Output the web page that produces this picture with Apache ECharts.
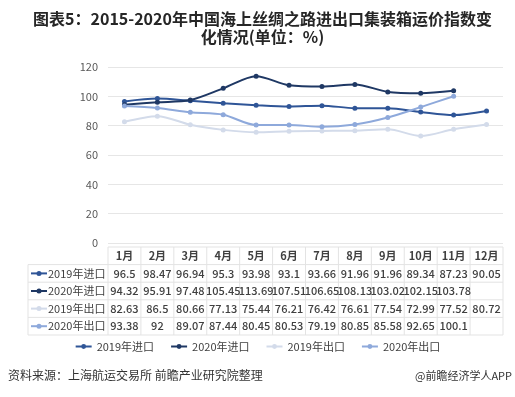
<!DOCTYPE html>
<html>
<head>
<meta charset="utf-8">
<script src="https://cdn.jsdelivr.net/npm/echarts@6/dist/echarts.min.js"></script>
<style>
html,body{margin:0;padding:0;background:#fff;}
#main{width:515px;height:397px;}
</style>
</head>
<body>
<div id="main"></div>
<script>
var months=['1月','2月','3月','4月','5月','6月','7月','8月','9月','10月','11月','12月'];
var imp2019=[96.5, 98.47, 96.94, 95.3, 93.98, 93.1, 93.66, 91.96, 91.96, 89.34, 87.23, 90.05];
var imp2020=[94.32, 95.91, 97.48, 105.45, 113.69, 107.51, 106.65, 108.13, 103.02, 102.15, 103.78, null];
var exp2019=[82.63, 86.5, 80.66, 77.13, 75.44, 76.21, 76.42, 76.61, 77.54, 72.99, 77.52, 80.72];
var exp2020=[93.38, 92, 89.07, 87.44, 80.45, 80.53, 79.19, 80.85, 85.58, 92.65, 100.1, null];
var names=['2019年进口','2020年进口','2019年出口','2020年出口'];
var colors=['#2F5597','#1F3864','#D3DBEA','#8EA9DB'];
var yTicks=[0,20,40,60,80,100,120];

var rows=[imp2019,imp2020,exp2019,exp2020];
var font='"Noto Sans CJK SC", sans-serif';

// 表格位置
var gl=108, gr=503, tl=28, tTop=247, rowH=17.6;
var catW=(gr-gl)/months.length;

function init(){
    var graphics=[];
    // 表格横线
    for(var i=0;i<=5;i++){
        var y=tTop+i*rowH;
        graphics.push({type:'line',silent:true,shape:{x1:i==0?gl:tl,y1:y,x2:gr,y2:y},style:{stroke:'#E3E3E3',lineWidth:1}});
    }
    // 表格竖线
    graphics.push({type:'line',silent:true,shape:{x1:tl,y1:tTop+rowH,x2:tl,y2:tTop+5*rowH},style:{stroke:'#E3E3E3',lineWidth:1}});
    for(var k=0;k<=months.length;k++){
        var x=gl+k*catW;
        graphics.push({type:'line',silent:true,shape:{x1:x,y1:tTop,x2:x,y2:tTop+5*rowH},style:{stroke:'#E3E3E3',lineWidth:1}});
    }
    // 行标题
    for(var r=0;r<names.length;r++){
        var cy=tTop+rowH*(r+1.5);
        graphics.push({type:'line',silent:true,shape:{x1:31,y1:cy,x2:47,y2:cy},style:{stroke:colors[r],lineWidth:2}});
        graphics.push({type:'circle',silent:true,shape:{cx:39,cy:cy,r:2.5},style:{fill:colors[r]}});
        graphics.push({type:'text',silent:true,x:48,y:cy,style:{text:names[r],font:'11px '+font,fill:'#404040',textVerticalAlign:'middle'}});
    }
    // 资料来源
    graphics.push({type:'text',silent:true,left:8,top:369,style:{text:'资料来源：上海航运交易所 前瞻产业研究院整理',font:'12px '+font,fill:'#333'}});
    graphics.push({type:'text',silent:true,right:3,top:370,style:{text:'@前瞻经济学人APP',font:'11px '+font,fill:'#333'}});

    var series=[];
    for(var s=0;s<names.length;s++){
        series.push({
            name:names[s],
            type:'line',
            data:rows[s],
            smooth:0.3,
            symbol:'circle',
            symbolSize:5,
            color:colors[s],
            lineStyle:{width:2,color:colors[s]},
            itemStyle:{color:colors[s]}
        });
    }

    var option={
        animation:false,
        title:{
            text:'图表5：2015-2020年中国海上丝绸之路进出口集装箱运价指数变\n化情况(单位：%)',
            left:257.5,
            top:5,
            textAlign:'center',
            textStyle:{fontFamily:font,fontSize:16,fontWeight:'bold',color:'#262626',lineHeight:18}
        },
        legend:{
            data:names,
            top:336,
            left:'center',
            itemWidth:16,
            itemHeight:6,
            itemGap:16,
            textStyle:{fontFamily:font,fontSize:11,color:'#404040'}
        },
        grid:{left:gl,right:515-gr,top:67,bottom:397-243},
        xAxis:{
            type:'category',
            data:months,
            axisLine:{show:false},
            axisTick:{show:false},
            axisLabel:{
                interval:0,
                margin:4,
                formatter:function(v,idx){
                    var s='{m|'+v+'}';
                    for(var r=0;r<rows.length;r++){
                        var d=rows[r][idx];
                        s+='\n{v|'+(d==null?' ':d)+'}';
                    }
                    return s;
                },
                rich:{
                    m:{fontFamily:font,fontSize:11,color:'#404040',lineHeight:rowH,fontWeight:'bold'},
                    v:{fontFamily:font,fontSize:11,color:'#404040',lineHeight:rowH,fontWeight:500}
                }
            }
        },
        yAxis:{
            type:'value',
            min:yTicks[0],
            max:yTicks[yTicks.length-1],
            interval:20,
            axisLine:{show:false},
            axisTick:{show:false},
            axisLabel:{fontFamily:font,fontSize:11,color:'#595959',margin:10},
            splitLine:{lineStyle:{color:'#E6E6E6'}}
        },
        graphic:graphics,
        series:series
    };
    var myChart=echarts.init(document.getElementById('main'));
    myChart.setOption(option);
}
init();
</script>
</body>
</html>
